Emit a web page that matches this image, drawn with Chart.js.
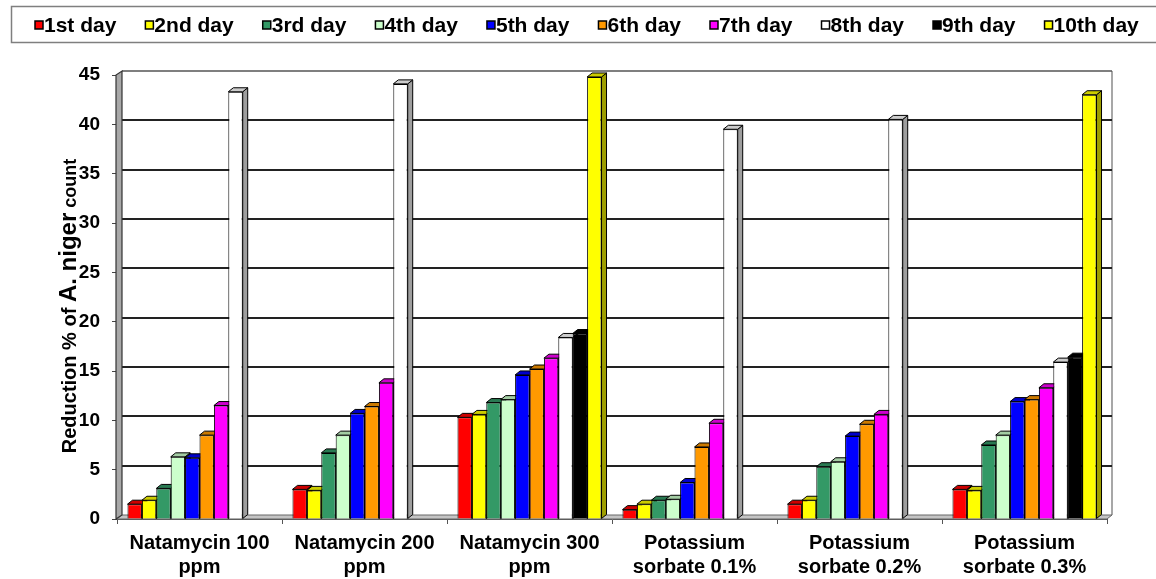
<!DOCTYPE html>
<html><head><meta charset="utf-8">
<script src="https://cdn.jsdelivr.net/npm/chart.js@4/dist/chart.umd.min.js"></script>
<style>html,body{margin:0;padding:0;background:#fff;}</style>
</head><body>
<canvas id="c" width="1156" height="579"></canvas>
<script>
// ---- data ----
const categories = [
  ['Natamycin 100', 'ppm'],
  ['Natamycin 200', 'ppm'],
  ['Natamycin 300', 'ppm'],
  ['Potassium', 'sorbate 0.1%'],
  ['Potassium', 'sorbate 0.2%'],
  ['Potassium', 'sorbate 0.3%']
];
const seriesNames = ['1st day', '2nd day', '3rd day', '4th day', '5th day', '6th day', '7th day', '8th day', '9th day', '10th day'];
const day1  = [1.5, 3.0, 10.3, 0.95, 1.5, 3.0];
const day2  = [1.9, 2.9, 10.6, 1.5, 1.9, 2.9];
const day3  = [3.1, 6.7, 11.8, 1.9, 5.3, 7.5];
const day4  = [6.3, 8.5, 12.1, 2.0, 5.8, 8.5];
const day5  = [6.2, 10.7, 14.6, 3.7, 8.4, 11.9];
const day6  = [8.5, 11.4, 15.2, 7.3, 9.6, 12.1];
const day7  = [11.5, 13.8, 16.3, 9.7, 10.6, 13.3];
const day8  = [43.3, 44.1, 18.4, 39.5, 40.5, 15.9];
const day9  = [null, null, 18.8, null, null, 16.4];
const day10 = [null, null, 44.8, null, null, 43.0];
const seriesValues = [day1, day2, day3, day4, day5, day6, day7, day8, day9, day10];
const seriesColors = ['#FF0000', '#FFFF00', '#339966', '#CCFFCC', '#0000FF', '#FF9900', '#FF00FF', '#FFFFFF', '#000000', '#FFFF00'];
const yMin = 0, yMax = 45, yStep = 5;
const yTitleParts = [['Reduction % of ', 20], ['A. niger', 24], [' count', 18]];

// ---- helpers ----
const FONT = '"Liberation Sans", Arial, sans-serif';
const DX = 5, DY = 4;
function shade(hex, f) {
  const n = parseInt(hex.slice(1), 16);
  const r = Math.round(((n >> 16) & 255) * f), g = Math.round(((n >> 8) & 255) * f), b = Math.round((n & 255) * f);
  return `rgb(${r},${g},${b})`;
}
function poly(ctx, pts, fill, stroke, lw) {
  ctx.beginPath();
  ctx.moveTo(pts[0][0], pts[0][1]);
  for (let i = 1; i < pts.length; i++) ctx.lineTo(pts[i][0], pts[i][1]);
  ctx.closePath();
  if (fill) { ctx.fillStyle = fill; ctx.fill(); }
  if (stroke) { ctx.strokeStyle = stroke; ctx.lineWidth = lw || 1; ctx.stroke(); }
}

// ---- 3D scene: walls, gridlines, bars drawn in left-to-right order ----
const scene3d = {
  id: 'scene3d',
  beforeDatasetsDraw(chart) {
    const ctx = chart.ctx;
    const {left: L, right: R, top: T, bottom: B} = chart.chartArea;
    const y = chart.scales.y;
    ctx.save();
    // back wall right edge
    ctx.strokeStyle = '#8a8a8a'; ctx.lineWidth = 1.5;
    ctx.beginPath(); ctx.moveTo(R + DX, T - DY); ctx.lineTo(R + DX, B - DY); ctx.stroke();
    // gridlines on back wall
    y.ticks.forEach(t => {
      if (t.value === yMin) return;
      const py = Math.round(y.getPixelForValue(t.value)) - DY;
      ctx.strokeStyle = t.value === yMax ? '#555' : '#222';
      ctx.lineWidth = t.value === yMax ? 1.5 : 2;
      ctx.beginPath(); ctx.moveTo(L + DX, py); ctx.lineTo(R + DX, py); ctx.stroke();
    });
    // floor
    poly(ctx, [[L, B], [R, B], [R + DX, B - DY], [L + DX, B - DY]], '#c4c4c4', '#666', 1);
    // left wall
    poly(ctx, [[L - 1, B], [L - 1, T], [L + DX, T - DY], [L + DX, B - DY]], '#a8a8a8', '#333', 1.2);
    // bars
    chart.data.datasets.forEach((ds, i) => {
      const meta = chart.getDatasetMeta(i);
      if (meta.hidden) return;
      const base = ds.backgroundColor;
      meta.data.forEach((el, j) => {
        const v = ds.data[j];
        if (v === null || v === undefined) return;
        el.draw(ctx);
        const {x, y: top, base: b, width: w} = el.getProps(['x', 'y', 'base', 'width'], true);
        const l = x - w / 2, r = x + w / 2;
        ctx.lineJoin = 'round';
        poly(ctx, [[r, top], [r + DX, top - DY], [r + DX, b - DY], [r, b]], shade(base, 0.62), '#000', 1);
        poly(ctx, [[l, top], [l + DX, top - DY], [r + DX, top - DY], [r, top]], shade(base, 0.8), '#000', 1);
      });
    });
    ctx.restore();
    return false;
  }
};

// ---- boxed legend ----
const boxLegend = {
  id: 'boxLegend',
  afterDraw(chart) {
    const ctx = chart.ctx;
    ctx.save();
    ctx.strokeStyle = '#7f7f7f'; ctx.lineWidth = 1.5;
    ctx.strokeRect(11.5, 6.5, 1170, 36);
    ctx.font = `bold 21px ${FONT}`;
    ctx.textBaseline = 'middle';
    ctx.textAlign = 'left';
    let x = 35; const cy = 25;
    seriesNames.forEach((name, i) => {
      ctx.fillStyle = seriesColors[i];
      ctx.fillRect(x, cy - 4, 8, 8);
      ctx.strokeStyle = '#000'; ctx.lineWidth = 1.5;
      ctx.strokeRect(x, cy - 4, 8, 8);
      ctx.fillStyle = '#000';
      ctx.fillText(name, x + 9, cy + 1);
      x += 9 + ctx.measureText(name).width + 29;
    });
    ctx.restore();
  }
};

// ---- y title with mixed sizes ----
const yTitle = {
  id: 'yTitle',
  afterDraw(chart) {
    const ctx = chart.ctx;
    ctx.save();
    ctx.fillStyle = '#000';
    ctx.textBaseline = 'alphabetic';
    ctx.textAlign = 'left';
    let total = 0;
    const widths = yTitleParts.map(([t, s]) => { ctx.font = `bold ${s}px ${FONT}`; const w = ctx.measureText(t).width; total += w; return w; });
    ctx.translate(76, 306);
    ctx.rotate(-Math.PI / 2);
    let x = -total / 2;
    yTitleParts.forEach(([t, s], i) => {
      ctx.font = `bold ${s}px ${FONT}`;
      ctx.fillText(t, x, 0);
      x += widths[i];
    });
    ctx.restore();
  }
};

const datasets = seriesNames.map((name, i) => ({
  label: name,
  data: seriesValues[i],
  backgroundColor: seriesColors[i],
  borderColor: '#000',
  borderWidth: 1,
  categoryPercentage: 0.873,
  barPercentage: 1.0
}));

new Chart(document.getElementById('c'), {
  type: 'bar',
  data: { labels: categories, datasets },
  options: {
    responsive: false,
    animation: false,
    devicePixelRatio: 1,
    layout: { padding: { top: 75, right: 49, bottom: 0, left: 0 } },
    plugins: { legend: { display: false }, tooltip: { enabled: false }, title: { display: false } },
    scales: {
      x: {
        afterFit(s) { s.height = 60; },
        grid: { offset: true, drawOnChartArea: false, drawTicks: true, tickLength: 5, color: '#555' },
        border: { display: true, color: '#555' },
        ticks: { color: '#000', padding: 7, maxRotation: 0, autoSkip: false, font: { family: FONT, size: 20, weight: 'bold', lineHeight: 1.2 } }
      },
      y: {
        min: yMin, max: yMax,
        afterFit(s) { s.width = 117; },
        grid: { drawOnChartArea: false, drawTicks: true, tickLength: 5, color: '#444' },
        border: { display: false },
        ticks: { stepSize: yStep, color: '#000', padding: 12, font: { family: FONT, size: 19, weight: 'bold' } }
      }
    }
  },
  plugins: [scene3d, boxLegend, yTitle]
});
</script>
</body></html>
